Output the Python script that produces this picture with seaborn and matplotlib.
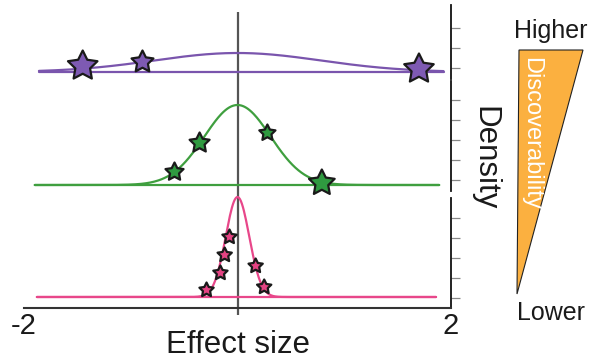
import numpy as np
import pandas as pd
import matplotlib
matplotlib.use('Agg')
import matplotlib.pyplot as plt
import seaborn as sns
from matplotlib.path import Path
from matplotlib.patches import Polygon

# Data (x = effect size, y = density in tick units)
groups = ['wide', 'medium', 'narrow']
curve_sd = [0.78, 0.31, 0.11]
curve_peak = [0.95, 4.0, 5.0]
curve_start = [-1.86, -1.90, -1.88]
curve_end = [1.93, 1.89, 1.86]

wide_star_x = [-1.45, -0.89, 1.70]
wide_star_y = [0.30, 0.50, 0.15]
medium_star_x = [-0.59, -0.355, 0.28, 0.79]
medium_star_y = [0.65, 2.10, 2.60, 0.10]
narrow_star_x = [-0.29, -0.16, -0.12, -0.075, 0.17, 0.25]
narrow_star_y = [0.35, 1.20, 2.10, 3.00, 1.55, 0.50]

x_ticklabels = ['-2', '2']
x_ticks = [-2, 2]

# styles
line_colors = ['#7a55ad', '#3f9f3f', '#e8478a']
star_fill = ['#7e5ab3', '#2f9a40', '#e44383']
star_sizes = [[31, 23, 31], [19, 21, 17, 27], [15, 15, 15, 15, 15, 15]]

sns.set_style('white')
plt.rcParams['font.family'] = ['Liberation Sans', 'DejaVu Sans']

W, H = 594, 364
fig = plt.figure(figsize=(W / 100, H / 100), dpi=100)


def px_box(x0, y0, x1, y1):
    return [x0 / W, 1 - y1 / H, (x1 - x0) / W, (y1 - y0) / H]


# fat five point star marker
ang = np.pi / 2 + np.arange(10) * np.pi / 5
rad = np.where(np.arange(10) % 2 == 0, 1.0, 0.5)
verts = np.column_stack([rad * np.cos(ang), rad * np.sin(ang)])
verts = np.vstack([verts, verts[:1]])
star = Path(verts, [Path.MOVETO] + [Path.LINETO] * 9 + [Path.CLOSEPOLY])

# background axes for the zero line
bg = fig.add_axes(px_box(24, 12, 451, 315), zorder=0)
bg.set_xlim(-2, 2)
bg.axvline(0, color='#555555', lw=1.6)
bg.axis('off')

boxes = [px_box(24, 5, 451, 79), px_box(24, 81, 451, 191), px_box(24, 198, 451, 308)]
ylims = [(-0.35, 3.35), (-0.30, 5.20), (-0.55, 4.95)]
yticks = [[0.2, 1.2, 2.2], [0.25, 1.25, 2.25, 3.25, 4.25], [-0.05, 0.95, 1.95, 2.95, 3.95]]
stars_x = [wide_star_x, medium_star_x, narrow_star_x]
stars_y = [wide_star_y, medium_star_y, narrow_star_y]

for i, g in enumerate(groups):
    ax = fig.add_axes(boxes[i], zorder=1)
    ax.set_facecolor('none')
    xs = np.linspace(curve_start[i], curve_end[i], 400)
    dens = curve_peak[i] * np.exp(-xs ** 2 / (2 * curve_sd[i] ** 2))
    df = pd.DataFrame({'x': xs, 'y': dens})
    base = pd.DataFrame({'x': [curve_start[i], curve_end[i]], 'y': [0, 0]})
    sns.lineplot(data=base, x='x', y='y', ax=ax, color=line_colors[i], lw=1.6, clip_on=False)
    sns.lineplot(data=df, x='x', y='y', ax=ax, color=line_colors[i], lw=1.6, clip_on=False)
    sdf = pd.DataFrame({'x': stars_x[i], 'y': stars_y[i]})
    sns.scatterplot(data=sdf, x='x', y='y', ax=ax, marker=star,
                    s=[(v * 0.72) ** 2 for v in star_sizes[i]],
                    color=star_fill[i], edgecolor='#1a1a1a', linewidth=1.6,
                    zorder=5, clip_on=False)
    ax.set_xlim(-2, 2)
    ax.set_ylim(*ylims[i])
    ax.set_xlabel('')
    ax.set_ylabel('')
    ax.yaxis.tick_right()
    ax.set_yticks(yticks[i])
    ax.set_yticklabels([])
    ax.tick_params(axis='y', direction='out', length=6.5, width=0.9, color='#888888', right=True, left=False)
    for s in ['left', 'top', 'bottom']:
        ax.spines[s].set_visible(False)
    ax.spines['right'].set_color('#111111')
    ax.spines['right'].set_linewidth(1.3)
    if i == 2:
        ax.spines['bottom'].set_visible(True)
        ax.spines['bottom'].set_color('#333333')
        ax.spines['bottom'].set_linewidth(1.5)
        ax.set_xticks(x_ticks)
        ax.set_xticklabels(x_ticklabels, fontsize=21, color='#1a1a1a')
        ax.tick_params(axis='x', length=0, pad=3, bottom=True)
        ax.set_xlabel('Effect size', fontsize=22.5, color='#1a1a1a', va='top')
        ax.xaxis.set_label_coords(0.5, -0.2)
    else:
        ax.set_xticks([])

fig.text(484 / W, 1 - 158 / H, 'Density', rotation=-90, ha='center', va='center',
         fontsize=22.5, color='#1a1a1a')

tri = Polygon([(519 / W, 1 - 50 / H), (583 / W, 1 - 50 / H), (517 / W, 1 - 294 / H)],
              closed=True, transform=fig.transFigure, facecolor='#fbb040',
              edgecolor='#222222', lw=0.8)
fig.patches.append(tri)
fig.text(531 / W, 1 - 57 / H, 'Discoverability', rotation=-90, ha='center', va='top',
         fontsize=17, color='white')
fig.text(551 / W, 1 - 38 / H, 'Higher', ha='center', va='baseline', fontsize=18, color='#1a1a1a')
fig.text(551 / W, 1 - 320 / H, 'Lower', ha='center', va='baseline', fontsize=18, color='#1a1a1a')

fig.savefig('out.png', dpi=100)
